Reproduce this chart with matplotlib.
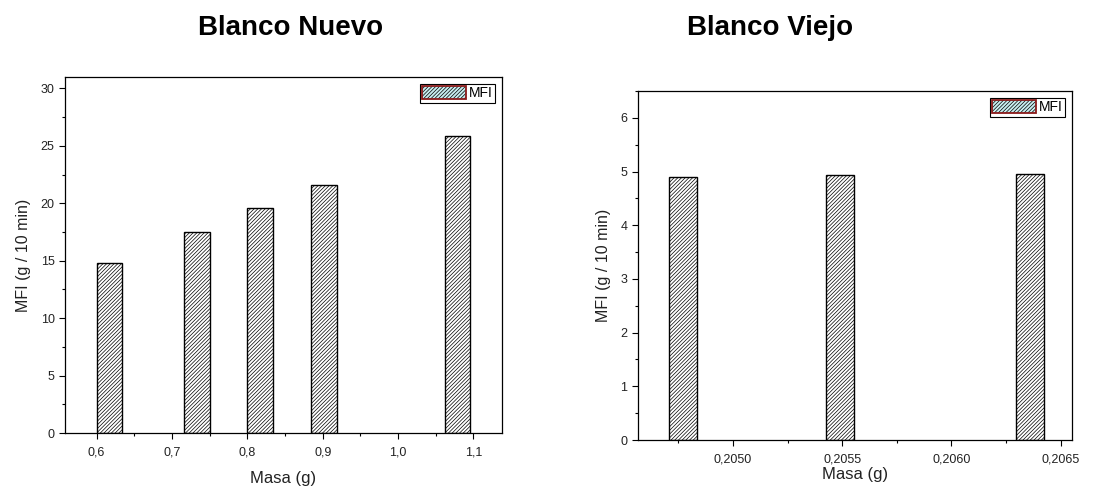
import matplotlib
matplotlib.use("Agg")
import matplotlib.pyplot as plt
from matplotlib.patches import Patch
from matplotlib.legend_handler import HandlerTuple
from matplotlib.ticker import MultipleLocator, FuncFormatter

plt.rcParams['font.family'] = ['Liberation Sans', 'DejaVu Sans']
plt.rcParams['hatch.linewidth'] = 0.5

# Blanco Nuevo
masa_nuevo = [0.617, 0.733, 0.817, 0.902, 1.079]
mfi_nuevo = [14.8, 17.5, 19.6, 21.6, 25.9]

# Blanco Viejo
masa_viejo = [0.20477, 0.20549, 0.20636]
mfi_viejo = [4.90, 4.93, 4.95]

titles = ['Blanco Nuevo', 'Blanco Viejo']
serie = 'MFI'
xlabel = 'Masa (g)'
ylabel = 'MFI (g / 10 min)'

HATCH = '/' * 9


def coma(fmt):
    return FuncFormatter(lambda v, p: (fmt % v).replace('.', ','))


def panel(ax, x, y, width, xlim, ylim, xmaj, ymaj, xfmt, yfmt, xpad):
    ax.bar(x, y, width=width, color='white', edgecolor='black',
           hatch=HATCH, linewidth=1.0)
    ax.set_xlim(*xlim)
    ax.set_ylim(*ylim)
    ax.xaxis.set_major_locator(MultipleLocator(xmaj))
    ax.xaxis.set_minor_locator(MultipleLocator(xmaj / 2))
    ax.yaxis.set_major_locator(MultipleLocator(ymaj))
    ax.yaxis.set_minor_locator(MultipleLocator(ymaj / 2))
    ax.xaxis.set_major_formatter(coma(xfmt))
    ax.yaxis.set_major_formatter(coma(yfmt))
    ax.tick_params(which='major', length=4, width=0.8, labelsize=9,
                   labelcolor='#222222', top=False, right=False)
    ax.tick_params(which='minor', length=2.5, width=0.8, top=False, right=False)
    ax.tick_params(axis='x', which='major', pad=6)
    for s in ax.spines.values():
        s.set_linewidth(0.9)
    ax.set_xlabel(xlabel, fontsize=12, color='#222222', labelpad=xpad)
    ax.set_ylabel(ylabel, fontsize=11.5, color='#222222', labelpad=7)
    h = (Patch(facecolor='#c9eef0', edgecolor='black', hatch=HATCH, linewidth=0),
         Patch(facecolor='none', edgecolor='#8b1a1a', linewidth=1.3))
    leg = ax.legend([h], [serie], handler_map={tuple: HandlerTuple(ndivide=1)},
                    loc='upper right', fontsize=10, fancybox=False, framealpha=1,
                    edgecolor='black', borderpad=0.15, handlelength=3.2,
                    handleheight=1.1, handletextpad=0.2, borderaxespad=0.5)
    leg.get_frame().set_linewidth(0.8)


fig = plt.figure(figsize=(11.02, 4.93), dpi=100)
ax1 = fig.add_axes([0.059, 0.1217, 0.3966, 0.7221])
ax2 = fig.add_axes([0.5787, 0.1075, 0.3941, 0.7079])

panel(ax1, masa_nuevo, mfi_nuevo, 0.034, (0.558, 1.138), (0, 31),
      0.1, 5, '%.1f', '%d', 9)
panel(ax2, masa_viejo, mfi_viejo, 0.000127, (0.204564, 0.206552), (0, 6.5),
      0.0005, 1, '%.4f', '%d', 1)

fig.text(0.264, 0.929, titles[0], ha='center', va='baseline',
         fontsize=20, fontweight='bold')
fig.text(0.699, 0.929, titles[1], ha='center', va='baseline',
         fontsize=20, fontweight='bold')

fig.savefig('out.png', dpi=100)
